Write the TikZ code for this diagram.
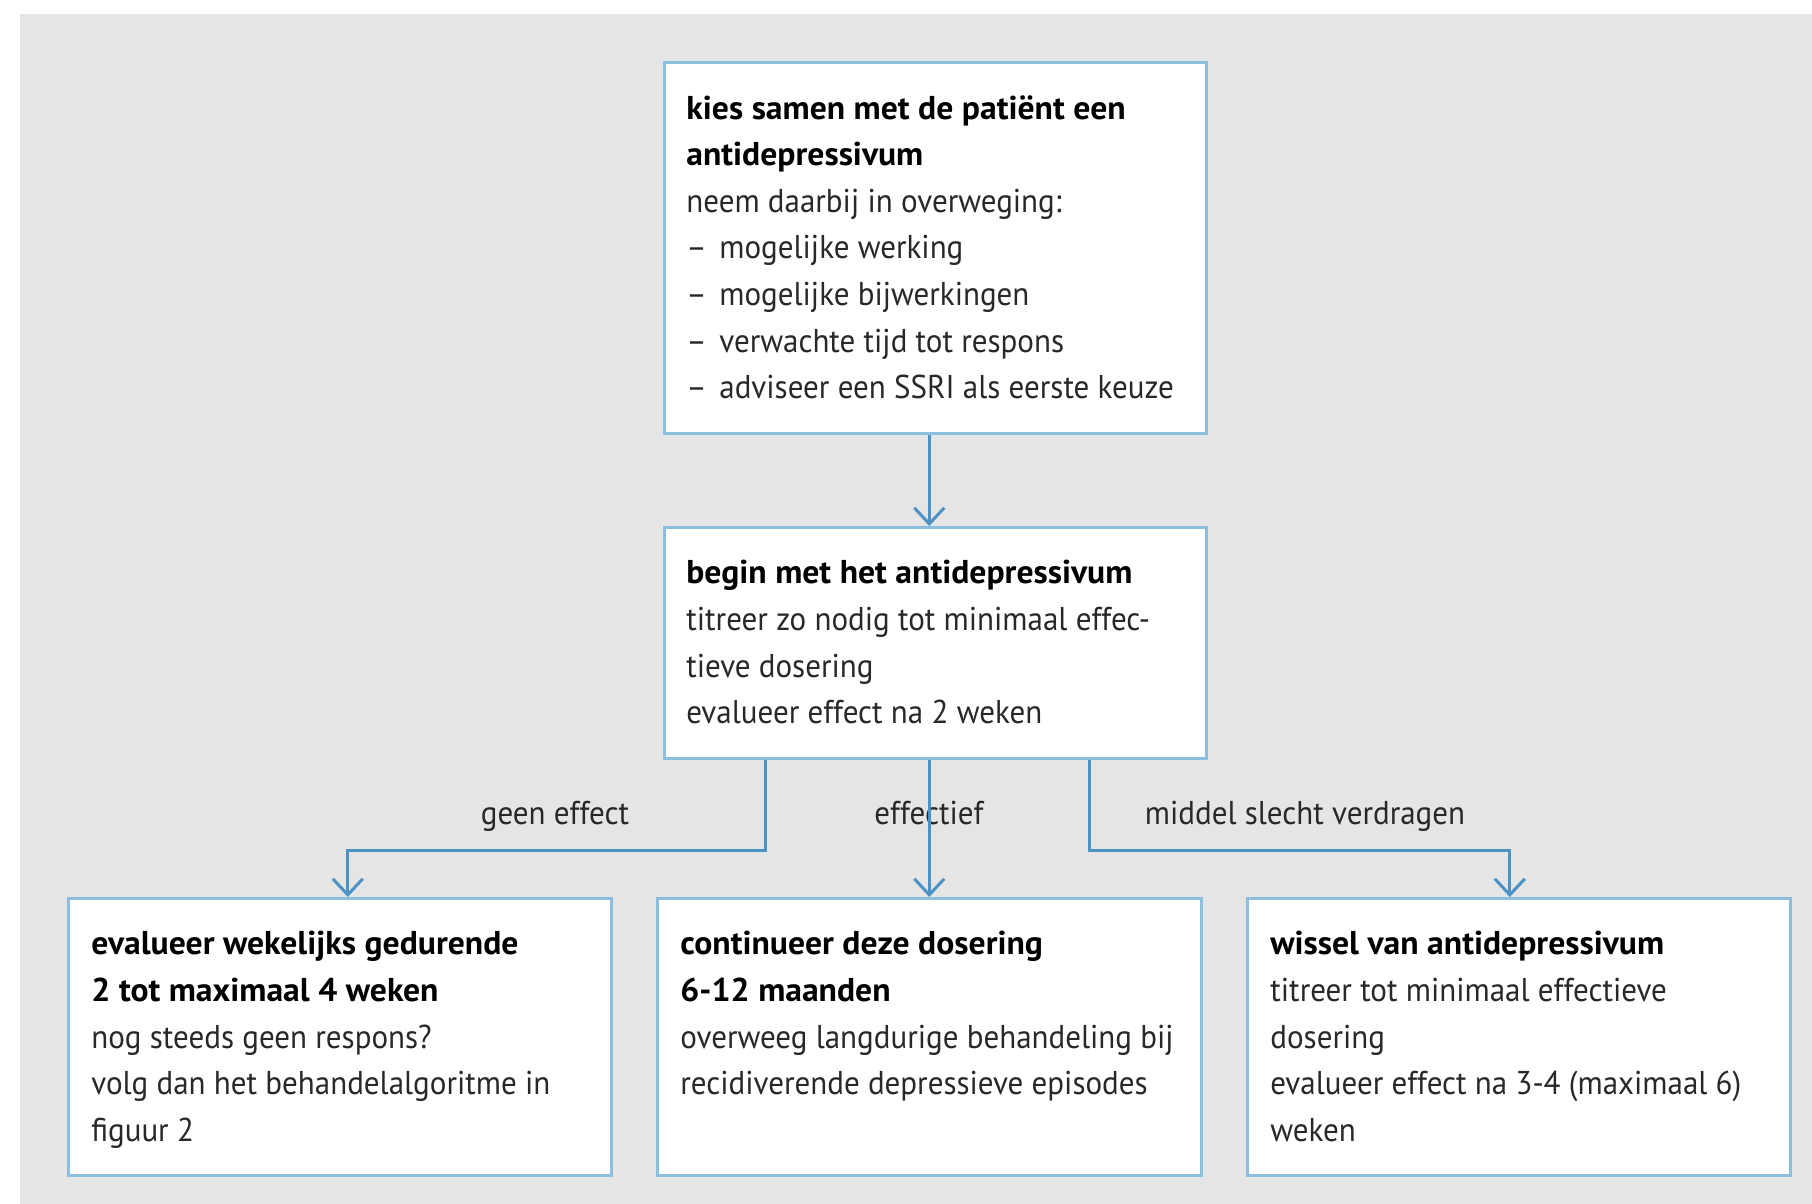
\documentclass[tikz,border=0pt]{standalone}
\usepackage{fontspec}
\setmainfont{PT Sans}[FakeStretch=0.94, BoldFeatures={FakeStretch=1.02}]
\usetikzlibrary{arrows.meta,calc}
\definecolor{bgray}{RGB}{229,229,229}
\definecolor{lineblue}{RGB}{76,146,196}
\definecolor{boxblue}{RGB}{140,190,224}
\definecolor{txtgray}{RGB}{40,40,40}
\newcommand{\itm}{\makebox[16.5pt][l]{–}}
\tikzset{
  box/.style={draw=boxblue, line width=1.3pt, fill=white, anchor=north west, inner sep=0pt},
  txt/.style={anchor=north west, inner sep=0pt, align=left, text=txtgray,
    font=\fontsize{16.5pt}{23.3pt}\selectfont},
  lbl/.style={anchor=base, inner sep=0pt, text=txtgray, font=\fontsize{16.5pt}{23.3pt}\selectfont},
  arr/.style={draw=lineblue, line width=1.5pt, -{Straight Barb[length=8pt,width=15pt,line width=1.5pt]}}
}
\newcommand{\hd}[1]{\textbf{\color{black}#1}}
\begin{document}
\begin{tikzpicture}[x=0.5pt,y=-0.5pt]
\useasboundingbox (0,0) rectangle (1812,1204);
\fill[bgray] (20,14) rectangle (1812,1204);

\node[box, minimum width=271pt, minimum height=185.5pt] (b1) at (663,61) {};
\node[box, minimum width=271pt, minimum height=115.5pt] (b2) at (663,526) {};
\node[box, minimum width=271.5pt, minimum height=138.5pt] (b3) at (67,897) {};
\node[box, minimum width=272pt, minimum height=138.5pt] (b4) at (656,897) {};
\node[box, minimum width=271.5pt, minimum height=138.5pt] (b5) at (1246,897) {};

\node[txt] (t1) at ($(b1.north west)+(23,34)$) {\hd{kies samen met de patiënt een}\\\hd{antidepressivum}\\neem daarbij in overweging:\\\itm mogelijke werking\\\itm mogelijke bijwerkingen\\\itm verwachte tijd tot respons\\\itm adviseer een SSRI als eerste keuze};
\node[txt] (t2) at ($(b2.north west)+(23,34)$) {\hd{begin met het antidepressivum}\\titreer zo nodig tot minimaal effec-\\tieve dosering\\evalueer effect na 2 weken};
\node[txt] (t3) at ($(b3.north west)+(24,34)$) {\hd{evalueer wekelijks gedurende}\\\hd{2 tot maximaal 4 weken}\\nog steeds geen respons?\\volg dan het behandelalgoritme in\\figuur 2};
\node[txt] (t4) at ($(b4.north west)+(24,34)$) {\hd{continueer deze dosering}\\\hd{6-12 maanden}\\overweeg langdurige behandeling bij\\recidiverende depressieve episodes};
\node[txt] (t5) at ($(b5.north west)+(24,34)$) {\hd{wissel van antidepressivum}\\titreer tot minimaal effectieve\\dosering\\evalueer effect na 3-4 (maximaal 6)\\weken};

\node[lbl] (l1) at (555,824) {geen effect};
\node[lbl] (l2) at (929,824) {effectief};
\node[lbl] (l3) at (1305,824) {middel slecht verdragen};

\draw[arr] (b1.south -| b4.north) -- (b2.north -| b4.north);
\draw[arr] ([xshift=51pt]b2.south west) |- ([xshift=4pt,yshift=23.5pt]b3.north) -- ([xshift=4pt]b3.north);
\draw[arr] (b2.south -| b4.north) -- (b4.north);
\draw[arr] ([xshift=-59pt]b2.south east) |- ([xshift=-4.5pt,yshift=23.5pt]b5.north) -- ([xshift=-4.5pt]b5.north);
\end{tikzpicture}
\end{document}
